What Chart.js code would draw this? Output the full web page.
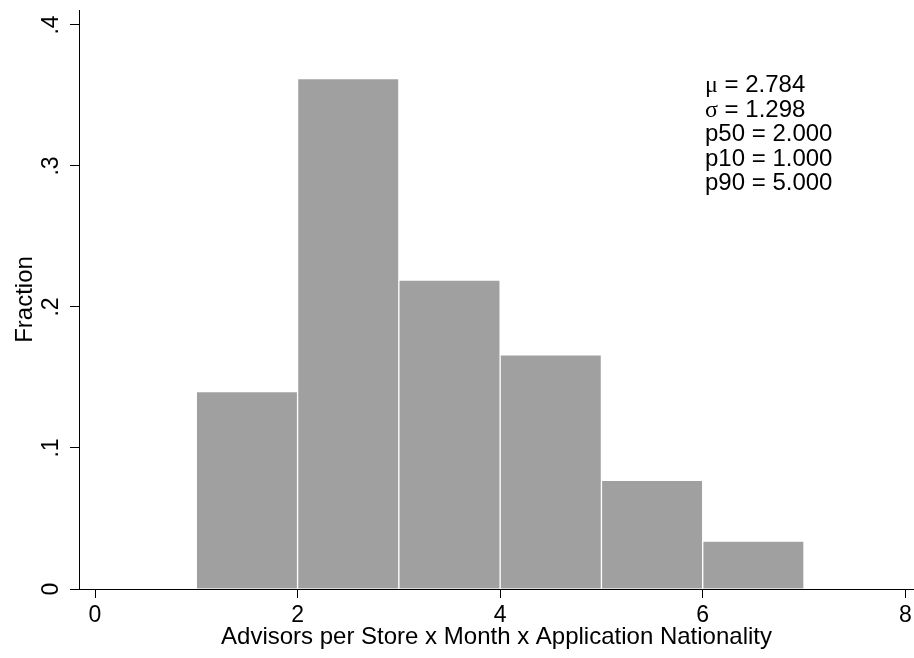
<!DOCTYPE html>
<html>
<head>
<meta charset="utf-8">
<script src="https://cdn.jsdelivr.net/npm/chart.js@4"></script>
<style>
    html, body { margin: 0; padding: 0; background: #fff; overflow: hidden; }
    #histChart { display: block; }
</style>
</head>
<body>
<canvas id="histChart" width="914" height="658"></canvas>
<script>
// histogram bins (left edges, width 1) and fractions
const binStarts = [1, 2, 3, 4, 5, 6];
const fractions = [0.14, 0.362, 0.219, 0.166, 0.077, 0.034];

const xTickValues = [0, 2, 4, 6, 8];
const xTickLabels = ['0', '2', '4', '6', '8'];
const yTickValues = [0, 0.1, 0.2, 0.3, 0.4];
const yTickLabels = ['0', '.1', '.2', '.3', '.4'];

const statNames = ['\u03bc', '\u03c3', 'p50', 'p10', 'p90'];
const statValues = ['2.784', '1.298', '2.000', '1.000', '5.000'];

const xTitle = 'Advisors per Store x Month x Application Nationality';
const yTitle = 'Fraction';

const sansFont = '"Liberation Sans", Arial, Helvetica, sans-serif';
const serifFont = '"Liberation Serif", "Times New Roman", serif';

window.addEventListener('load', initialize);

function initialize() {
    const ctx = document.getElementById('histChart').getContext('2d');
    new Chart(ctx, {
        type: 'bar',
        data: {
            datasets: [{
                label: 'Fraction',
                data: binStarts.map((b, i) => ({ x: b + 0.5, y: fractions[i] })),
                backgroundColor: '#a0a0a0',
                borderColor: '#ffffff',
                borderWidth: 1,
                barPercentage: 1,
                categoryPercentage: 1
            }]
        },
        options: {
            responsive: false,
            animation: false,
            layout: { padding: { top: 10, left: 0, right: 0, bottom: 0 } },
            plugins: {
                legend: { display: false },
                tooltip: { enabled: false }
            },
            scales: {
                x: {
                    type: 'linear',
                    offset: false,
                    min: -0.158,
                    max: 8.086,
                    afterBuildTicks: scale => { scale.ticks = xTickValues.map(v => ({ value: v })); },
                    grid: { display: true, offset: false, drawOnChartArea: false, drawTicks: true, tickLength: 9, color: '#000', lineWidth: 1 },
                    border: { display: true, color: '#000', width: 1 },
                    ticks: { display: false },
                    title: {
                        display: true,
                        text: xTitle,
                        color: '#000',
                        font: { family: sansFont, size: 24, lineHeight: 1 },
                        padding: { top: 27, bottom: 9 }
                    }
                },
                y: {
                    type: 'linear',
                    min: 0,
                    max: 0.4106,
                    afterBuildTicks: scale => { scale.ticks = yTickValues.map(v => ({ value: v })); },
                    grid: { display: true, drawOnChartArea: false, drawTicks: true, tickLength: 9, color: '#000', lineWidth: 1 },
                    border: { display: true, color: '#000', width: 1 },
                    ticks: { display: false },
                    title: {
                        display: true,
                        text: yTitle,
                        color: '#000',
                        font: { family: sansFont, size: 24, lineHeight: 1 },
                        padding: { top: 13, bottom: 33 }
                    }
                }
            }
        },
        plugins: [axisLabels, statsBox]
    });
}

// tick labels: x plain, y rotated to read bottom to top (Stata style)
const axisLabels = {
    id: 'axisLabels',
    afterDraw(chart) {
        const c = chart.ctx;
        const xScale = chart.scales.x;
        const yScale = chart.scales.y;
        c.save();
        c.fillStyle = '#000';
        c.font = '23px ' + sansFont;
        c.textAlign = 'center';
        c.textBaseline = 'alphabetic';
        const xBaseline = chart.chartArea.bottom + 32.5;
        xTickValues.forEach((v, i) => {
            c.fillText(xTickLabels[i], xScale.getPixelForValue(v), xBaseline);
        });
        yTickValues.forEach((v, i) => {
            c.save();
            c.translate(chart.chartArea.left - 21, yScale.getPixelForValue(v));
            c.rotate(-Math.PI / 2);
            c.fillText(yTickLabels[i], 0, 0);
            c.restore();
        });
        c.restore();
    }
};

// summary statistics text in the upper right
const statsBox = {
    id: 'statsBox',
    afterDraw(chart) {
        const c = chart.ctx;
        const left = 705;
        const firstBaseline = 92;
        const lineStep = 24.5;
        c.save();
        c.fillStyle = '#000';
        c.textAlign = 'left';
        c.textBaseline = 'alphabetic';
        statNames.forEach((name, i) => {
            const y = firstBaseline + i * lineStep;
            const greek = name.length === 1;
            c.font = '24px ' + (greek ? serifFont : sansFont);
            c.fillText(name, left, y);
            const w = c.measureText(name).width;
            c.font = '24px ' + sansFont;
            c.fillText(' = ' + statValues[i], left + w, y);
        });
        c.restore();
    }
};
</script>
</body>
</html>
